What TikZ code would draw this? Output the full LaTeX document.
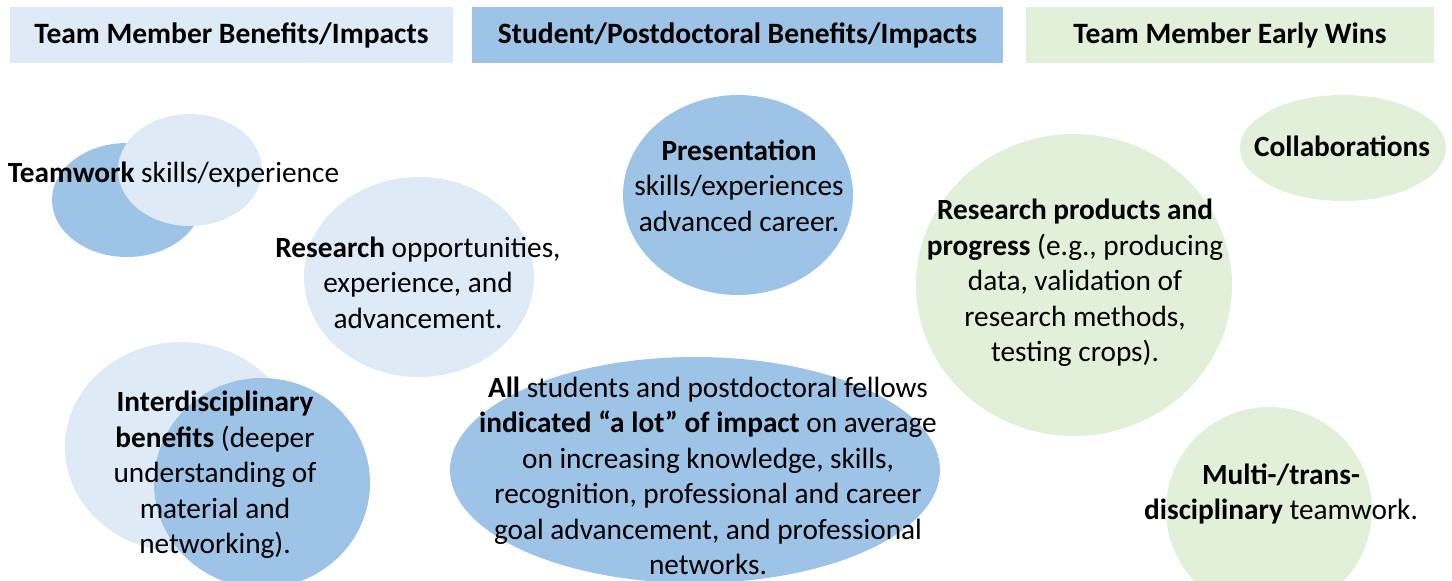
\documentclass[tikz,border=0pt]{standalone}
\usepackage{fontspec}
\setmainfont{Carlito}
\definecolor{paleblue}{HTML}{DEEBF7}
\definecolor{midblue}{HTML}{9DC3E6}
\definecolor{palegreen}{HTML}{E2F0D9}
\begin{document}
\begin{tikzpicture}[x=1pt,y=-1pt,
  every node/.style={inner sep=0pt, outer sep=0pt},
  txt/.style={font=\fontsize{29.3}{35.5}\selectfont, align=center},
  hdr/.style={font=\fontsize{29.5}{35.5}\selectfont\bfseries, minimum height=56pt}]
\useasboundingbox (0,0) rectangle (1452,581);

% column headers
\node[hdr, fill=paleblue, minimum width=443pt] (h1) at (231.5,35) {Team Member Benefits/Impacts};
\node[hdr, fill=midblue, minimum width=531pt] (h2) at (737.5,35) {Student/Postdoctoral Benefits/Impacts};
\node[hdr, fill=palegreen, minimum width=408pt] (h3) at (1230,35) {Team Member Early Wins};

% team member bubbles
\fill[midblue] (127,200) ellipse [x radius=75, y radius=57];
\fill[paleblue] (190,170) ellipse [x radius=72, y radius=56];
\fill[paleblue] (419,277) ellipse [x radius=115, y radius=100];
\fill[paleblue] (181,447) ellipse [x radius=116, y radius=105];
\fill[midblue] (262,483) ellipse [x radius=108, y radius=105];

% student / postdoc bubbles
\fill[midblue] (738,195) ellipse [x radius=115, y radius=100];
\fill[midblue] (695,470) ellipse [x radius=245, y radius=113];

% early wins bubbles
\fill[palegreen] (1343,148) ellipse [x radius=103, y radius=53];
\fill[palegreen] (1074,285) ellipse [x radius=158, y radius=151];
\fill[palegreen] (1269,510) ellipse [x radius=103, y radius=103];

% texts
\node[txt, anchor=base west] (teamwork) at (8,182) {\textbf{Teamwork} skills/experience};
\node[txt] (research) at (418,282.5) {\textbf{Research} opportunities,\\experience, and\\advancement.};
\node[txt] (interdisc) at (215,475) {\textbf{Interdisciplinary}\\\textbf{benefits} (deeper\\understanding of\\material and\\networking).};
\node[txt] (presentation) at (739,185.5) {\textbf{Presentation}\\skills/experiences\\advanced career.};
\node[txt] (all) at (708,476) {\textbf{All} students and postdoctoral fellows\\\textbf{indicated “a lot” of impact} on average\\on increasing knowledge, skills,\\recognition, professional and career\\goal advancement, and professional\\networks.};
\node[txt, anchor=base] (collab) at (1342,156) {\textbf{Collaborations}};
\node[txt] (products) at (1075,283) {\textbf{Research products and}\\\textbf{progress} (e.g., producing\\data, validation of\\research methods,\\testing crops).};
\node[txt] (multi) at (1281,494) {\textbf{Multi-/trans-}\\\textbf{disciplinary} teamwork.};
\end{tikzpicture}
\end{document}
